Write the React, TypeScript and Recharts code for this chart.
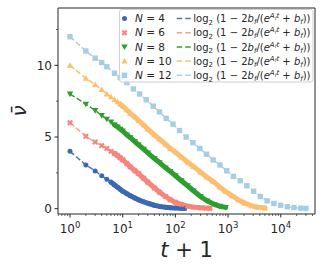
import React from 'react';
import { ComposedChart, XAxis, YAxis, Line, Scatter, ReferenceArea } from 'recharts';

const W = 324;
const H = 270;
const X_DOMAIN: [number, number] = [0.592, 44600];
const Y_DOMAIN: [number, number] = [-0.37, 14.0];
const X_MAJOR = [1, 10, 100, 1000, 10000];
const Y_MAJOR = [0, 5, 10];
const Y_MINOR = [2.5, 7.5, 12.5];
const N_LABELS = ['4', '6', '8', '10', '12'];

// t + 1 values and mean values
const x4 = [1, 2, 3, 4, 5, 6, 7, 8, 9, 10, 12, 14, 17, 20, 25, 30, 40, 50, 65, 80, 100, 125, 150];
const v4 = [4.0, 3.05, 2.63, 2.3, 2.05, 1.85, 1.65, 1.5, 1.35, 1.22, 1.05, 0.9, 0.75, 0.62, 0.48, 0.38, 0.24, 0.16, 0.1, 0.07, 0.04, 0.03, 0.02];

const x6 = [1, 2, 3, 4, 5, 6, 7, 8, 9, 10, 12, 14, 17, 20, 25, 30, 40, 50, 65, 80, 100, 130, 170, 220, 300, 380, 450];
const v6 = [6.0, 5.05, 4.65, 4.4, 4.2, 4.0, 3.85, 3.7, 3.55, 3.42, 3.15, 2.92, 2.65, 2.45, 2.12, 1.85, 1.45, 1.15, 0.85, 0.62, 0.45, 0.3, 0.18, 0.11, 0.06, 0.04, 0.03];

const x8 = [1, 2, 3, 4, 5, 6, 7, 8, 9, 10, 12, 14, 17, 20, 25, 30, 40, 50, 65, 80, 100, 130, 170, 220, 300, 400, 550, 700, 900];
const v8 = [8.0, 7.3, 6.85, 6.5, 6.25, 6.05, 5.85, 5.7, 5.55, 5.42, 5.15, 4.95, 4.68, 4.45, 4.15, 3.9, 3.5, 3.22, 2.85, 2.6, 2.3, 1.95, 1.6, 1.25, 0.85, 0.55, 0.3, 0.17, 0.09];

const x10 = [1, 2, 3, 4, 5, 6, 7, 8, 9, 10, 12, 14, 17, 20, 25, 30, 40, 50, 65, 80, 100, 130, 170, 220, 300, 400, 520, 700, 900, 1200, 1600, 2100, 2800, 3600, 5000];
const v10 = [10.0, 9.1, 8.65, 8.3, 8.0, 7.8, 7.6, 7.45, 7.3, 7.15, 6.9, 6.65, 6.4, 6.15, 5.85, 5.55, 5.15, 4.85, 4.5, 4.2, 3.95, 3.6, 3.25, 2.95, 2.55, 2.2, 1.9, 1.5, 1.2, 0.9, 0.6, 0.38, 0.2, 0.11, 0.05];

const x12 = [1, 2, 3, 4, 5, 7, 9, 12, 16, 21, 28, 38, 50, 67, 90, 120, 160, 215, 290, 390, 520, 700, 940, 1260, 1700, 2270, 3050, 4100, 5500, 7400, 9900, 13300, 17800, 24000, 30000];
const v12 = [12.0, 11.0, 10.5, 10.2, 9.9, 9.45, 9.15, 8.8, 8.35, 8.0, 7.6, 7.15, 6.75, 6.3, 5.9, 5.45, 5.0, 4.6, 4.2, 3.8, 3.4, 3.05, 2.65, 2.25, 1.95, 1.6, 1.22, 0.85, 0.55, 0.36, 0.24, 0.14, 0.08, 0.04, 0.02];

const MARKER_COLORS = ['#3a68b2', '#f7857c', '#2e9e2e', '#fdbe6e', '#a6cee3'];
const DASH_COLORS = ['#4a78bd', '#f9a09a', '#33a02c', '#fdbf6f', '#abd0e6'];
const BAND_FROM = [6, 7, 7, 9, Infinity];
const MARKERS = ['circle', 'x', 'tridown', 'triup', 'square'];

const build = (xs: number[], vs: number[]) => xs.map((x, i) => ({ x, v: vs[i] }));
const SERIES = [build(x4, v4), build(x6, v6), build(x8, v8), build(x10, v10), build(x12, v12)];

const X_MINOR: number[] = [];
for (let e = -1; e <= 4; e++) {
  for (let m = 2; m <= 9; m++) {
    const v = m * Math.pow(10, e);
    if (v > X_DOMAIN[0] && v < X_DOMAIN[1]) X_MINOR.push(v);
  }
}
const X_TICKS = [...X_MINOR, ...X_MAJOR].sort((a, b) => a - b);
const Y_TICKS = [...Y_MAJOR, ...Y_MINOR].sort((a, b) => a - b);

const INK = '#262626';
const FONT = 'DejaVu Sans';

const Marker = ({ kind, cx, cy, color }: { kind: string; cx: number; cy: number; color: string }) => {
  if (cx == null || cy == null || isNaN(cx) || isNaN(cy)) return null;
  switch (kind) {
    case 'circle':
      return <circle cx={cx} cy={cy} r={2.5} fill={color} />;
    case 'x': {
      const w = 1.1, L = 3.1;
      const pts = [[-w, -L], [w, -L], [w, -w], [L, -w], [L, w], [w, w], [w, L], [-w, L], [-w, w], [-L, w], [-L, -w], [-w, -w]]
        .map(([a, b]) => `${cx + a},${cy + b}`).join(' ');
      return <polygon points={pts} fill={color} transform={`rotate(45 ${cx} ${cy})`} />;
    }
    case 'tridown':
      return <polygon points={`${cx - 3.2},${cy - 2.4} ${cx + 3.2},${cy - 2.4} ${cx},${cy + 3.2}`} fill={color} />;
    case 'triup':
      return <polygon points={`${cx - 3.2},${cy + 2.4} ${cx + 3.2},${cy + 2.4} ${cx},${cy - 3.2}`} fill={color} />;
    default:
      return <rect x={cx - 2.7} y={cy - 2.7} width={5.4} height={5.4} fill={color} />;
  }
};

const XTick = (props: any) => {
  const { x, y, payload } = props;
  const v = payload.value;
  const major = X_MAJOR.includes(v);
  const exp = Math.round(Math.log10(v));
  return (
    <g>
      <line x1={x} x2={x} y1={y} y2={y + (major ? 3.5 : 2)} stroke={INK} strokeWidth={major ? 1 : 0.7} />
      {major && (
        <text x={x} y={y + 19} textAnchor="middle" fontSize={12} fill={INK} fontFamily={FONT}>
          10<tspan dy={-5} fontSize={8.5}>{exp}</tspan>
        </text>
      )}
    </g>
  );
};

const YTick = (props: any) => {
  const { x, y, payload } = props;
  const v = payload.value;
  const major = Y_MAJOR.includes(v);
  return (
    <g>
      <line x1={x} x2={x - (major ? 3.5 : 2)} y1={y} y2={y} stroke={INK} strokeWidth={major ? 1 : 0.7} />
      {major && (
        <text x={x - 6} y={y + 4.3} textAnchor="end" fontSize={12} fill={INK} fontFamily={FONT}>
          {v}
        </text>
      )}
    </g>
  );
};

const FormulaText = ({ x, y }: { x: number; y: number }) => (
  <text x={x} y={y} fontSize={10} fontFamily={FONT} fill={INK}>
    log
    <tspan fontSize={7} dy={2.5}>2</tspan>
    <tspan dy={-2.5}>{' (1 \u2212 2'}</tspan>
    <tspan fontStyle="italic">b</tspan>
    <tspan fontSize={7} fontStyle="italic" dy={2}>f</tspan>
    <tspan dy={-2}>/(</tspan>
    <tspan fontStyle="italic">e</tspan>
    <tspan fontSize={7} fontStyle="italic" dy={-4}>A</tspan>
    <tspan fontSize={5} fontStyle="italic" dy={1.5}>f</tspan>
    <tspan fontSize={7} fontStyle="italic" dy={-1.5}>t</tspan>
    <tspan dy={4}>{' + '}</tspan>
    <tspan fontStyle="italic">b</tspan>
    <tspan fontSize={7} fontStyle="italic" dy={2}>f</tspan>
    <tspan dy={-2}>))</tspan>
  </text>
);

const Overlay = () => {
  const rowY = (i: number) => 18.5 + i * 14.2;
  return (
    <svg width={W} height={H} style={{ position: 'absolute', left: 0, top: 0, pointerEvents: 'none' }}>
      <rect x={119.5} y={9.5} width={193.5} height={72.5} rx={2.5} fill="#ffffff" fillOpacity={0.8} stroke="#d0d0d0" strokeWidth={1} />
      {N_LABELS.map((n, i) => (
        <g key={n}>
          <Marker kind={MARKERS[i]} cx={124.5} cy={rowY(i)} color={MARKER_COLORS[i]} />
          <text x={135} y={rowY(i) + 3.7} fontSize={10.5} fontFamily={FONT} fill={INK}>
            <tspan fontStyle="italic">N</tspan>{' = ' + n}
          </text>
          <line x1={176.7} x2={190.7} y1={rowY(i)} y2={rowY(i)} stroke={DASH_COLORS[i]} strokeWidth={1.5} strokeDasharray="5.5 3" />
          <FormulaText x={193.3} y={rowY(i) + 3.7} />
        </g>
      ))}
      <text x={186.5} y={257} textAnchor="middle" fontSize={21} fontFamily={FONT} fill={INK}>
        <tspan fontStyle="italic">t</tspan>{' + 1'}
      </text>
      <text x={26} y={111} transform="rotate(-90 26 111)" textAnchor="middle" fontSize={20} fontFamily={FONT} fill={INK} fontStyle="italic">
        {'\u03bd\u0304'}
      </text>
    </svg>
  );
};

export default function App() {
  return (
    <div style={{ position: 'absolute', left: 0, top: 0, width: W, height: H, background: '#fff' }}>
      <ComposedChart width={W} height={H} margin={{ top: 8, right: 9, bottom: 0, left: 0 }}>
        <XAxis
          dataKey="x"
          type="number"
          scale="log"
          domain={X_DOMAIN}
          allowDataOverflow
          ticks={X_TICKS}
          interval={0}
          tick={(p: any) => <XTick {...p} />}
          tickLine={false}
          axisLine={false}
          tickSize={0}
          tickMargin={0}
          height={56}
        />
        <YAxis
          dataKey="v"
          type="number"
          domain={Y_DOMAIN}
          allowDataOverflow
          ticks={Y_TICKS}
          interval={0}
          tick={(p: any) => <YTick {...p} />}
          tickLine={false}
          axisLine={false}
          tickSize={0}
          tickMargin={0}
          width={58}
        />
        <ReferenceArea x1={X_DOMAIN[0]} x2={X_DOMAIN[1]} y1={Y_DOMAIN[0]} y2={Y_DOMAIN[1]} fill="none" stroke={INK} strokeWidth={1} fillOpacity={0} />
        {SERIES.map((d, i) => (
          <Line
            key={'dash' + i}
            data={d}
            dataKey="v"
            type="linear"
            stroke={DASH_COLORS[i]}
            strokeWidth={1.5}
            strokeDasharray="5.5 2.4"
            dot={false}
            activeDot={false}
            isAnimationActive={false}
          />
        ))}
        {SERIES.map((d, i) => (
          <Line
            key={'band' + i}
            data={d.filter((p) => p.x >= BAND_FROM[i])}
            dataKey="v"
            type="linear"
            stroke={MARKER_COLORS[i]}
            strokeWidth={5}
            strokeLinecap="round"
            strokeLinejoin="round"
            dot={false}
            activeDot={false}
            isAnimationActive={false}
          />
        ))}
        {SERIES.map((d, i) => (
          <Scatter
            key={'pts' + i}
            data={d}
            dataKey="v"
            fill={MARKER_COLORS[i]}
            isAnimationActive={false}
            shape={(p: any) => <Marker kind={MARKERS[i]} cx={p.cx} cy={p.cy} color={MARKER_COLORS[i]} />}
          />
        ))}
      </ComposedChart>
      <Overlay />
    </div>
  );
}
